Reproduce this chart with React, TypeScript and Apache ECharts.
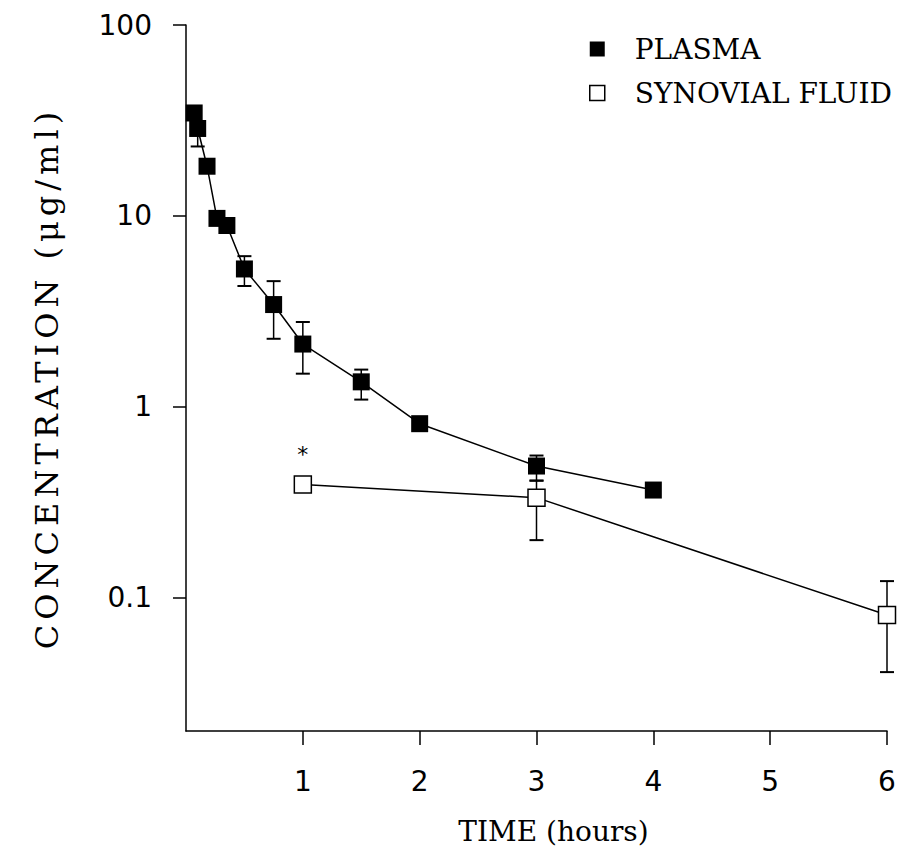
import React, { useEffect, useRef } from "react";
import * as echarts from "echarts";

// Plasma (filled squares)
const TIME_PLASMA = [0.07, 0.1, 0.18, 0.265, 0.35, 0.5, 0.75, 1, 1.5, 2, 3, 4];
const CONC_PLASMA = [34.6, 28.7, 18.2, 9.7, 8.9, 5.27, 3.43, 2.13, 1.35, 0.815, 0.489, 0.366];
const PLASMA_LOW: (number | null)[] = [null, 23.1, null, null, null, 4.29, 2.27, 1.49, 1.09, null, 0.41, null];
const PLASMA_HIGH: (number | null)[] = [null, null, null, null, null, 6.15, 4.55, 2.78, 1.565, null, 0.555, null];

// Synovial fluid (open squares)
const TIME_SYN = [1, 3, 6];
const CONC_SYN = [0.391, 0.334, 0.081];
const SYN_LOW: (number | null)[] = [null, 0.2, 0.0407];
const SYN_HIGH: (number | null)[] = [null, 0.41, 0.122];
const SYN_MARK = ["*", "", ""];

const X_TICKS = [1, 2, 3, 4, 5, 6];
const Y_TICKS = [0.1, 1, 10, 100];

const SERIES_NAMES = ["PLASMA", "SYNOVIAL FLUID"];
const Y_NAME = "CONCENTRATION (μg/ml)";
const X_NAME = "TIME (hours)";

const errData = (t: number[], v: number[], lo: (number | null)[], hi: (number | null)[]) =>
  t.map((x, i) => [x, lo[i] ?? v[i], hi[i] ?? v[i], lo[i] == null ? 0 : 1, hi[i] == null ? 0 : 1]);

const renderErr = (params: any, api: any) => {
  const x = api.value(0);
  const p1 = api.coord([x, api.value(1)]);
  const p2 = api.coord([x, api.value(2)]);
  const hasLo = api.value(3);
  const hasHi = api.value(4);
  const cw = 7;
  const style = { stroke: "#000", lineWidth: 1.5 };
  const children: any[] = [
    { type: "line", shape: { x1: p1[0], y1: p1[1], x2: p2[0], y2: p2[1] }, style },
  ];
  if (hasLo) children.push({ type: "line", shape: { x1: p1[0] - cw, y1: p1[1], x2: p1[0] + cw, y2: p1[1] }, style: { stroke: "#000", lineWidth: 2 } });
  if (hasHi) children.push({ type: "line", shape: { x1: p2[0] - cw, y1: p2[1], x2: p2[0] + cw, y2: p2[1] }, style: { stroke: "#000", lineWidth: 2 } });
  return { type: "group", children };
};

const fmtY = (v: number) => (v >= 1 ? String(Math.round(v)) : String(+v.toPrecision(1)));

export default function App() {
  const ref = useRef<HTMLDivElement>(null);
  useEffect(() => {
    if (!ref.current) return;
    const chart = echarts.init(ref.current, null, { renderer: "svg" });
    const serif = "DejaVu Serif";
    const sans = "DejaVu Sans";
    chart.setOption({
      animation: false,
      backgroundColor: "#fff",
      grid: { left: 186, right: 24, top: 25, bottom: 123, containLabel: false, outerBoundsMode: "none" },
      legend: {
        orient: "vertical",
        left: 589,
        top: 35,
        padding: 0,
        itemWidth: 15,
        itemHeight: 15,
        itemGap: 16,
        selectedMode: false,
        textStyle: { fontFamily: serif, fontSize: 28, color: "#000", padding: [0, 0, 0, 25] },
        data: [
          { name: SERIES_NAMES[0], icon: "rect", itemStyle: { color: "#000", borderWidth: 0 } },
          { name: SERIES_NAMES[1], icon: "rect", itemStyle: { color: "#fff", borderColor: "#000", borderWidth: 1.5 } },
        ],
      },
      xAxis: {
        type: "value",
        min: 0,
        max: 6,
        interval: 1,
        name: X_NAME,
        nameLocation: "middle",
        nameGap: 86,
        nameTextStyle: { fontFamily: serif, fontSize: 28, color: "#000", padding: [0, 0, 0, 34] },
        axisLine: { show: true, onZero: false, lineStyle: { color: "#000", width: 1.5 } },
        axisTick: { show: true, length: 14, customValues: X_TICKS, lineStyle: { color: "#000", width: 1.5 } },
        axisLabel: { customValues: X_TICKS, margin: 36, fontFamily: sans, fontSize: 28, color: "#000" },
        splitLine: { show: false },
      },
      yAxis: {
        type: "log",
        logBase: 10,
        min: 0.02,
        max: 100,
        name: Y_NAME,
        nameLocation: "middle",
        nameRotate: 90,
        nameGap: 123,
        nameTextStyle: { fontFamily: serif, fontSize: 32, color: "#000" },
        axisLine: { show: true, onZero: false, lineStyle: { color: "#000", width: 1.5 } },
        axisTick: { show: true, length: 13, customValues: Y_TICKS, lineStyle: { color: "#000", width: 1.5 } },
        axisLabel: { customValues: Y_TICKS, margin: 34, fontFamily: sans, fontSize: 28, color: "#000", formatter: fmtY },
        splitLine: { show: false },
        minorTick: { show: false },
      },
      series: [
        {
          type: "custom",
          name: "plasma-err",
          z: 1,
          renderItem: renderErr,
          data: errData(TIME_PLASMA, CONC_PLASMA, PLASMA_LOW, PLASMA_HIGH),
          silent: true,
        },
        {
          type: "custom",
          name: "syn-err",
          z: 1,
          renderItem: renderErr,
          data: errData(TIME_SYN, CONC_SYN, SYN_LOW, SYN_HIGH),
          silent: true,
        },
        {
          type: "line",
          name: SERIES_NAMES[0],
          z: 3,
          symbol: "rect",
          symbolSize: 17,
          lineStyle: { color: "#000", width: 1.5 },
          itemStyle: { color: "#000", borderWidth: 0 },
          data: TIME_PLASMA.map((t, i) => [t, CONC_PLASMA[i]]),
        },
        {
          type: "line",
          name: SERIES_NAMES[1],
          z: 3,
          symbol: "rect",
          symbolSize: 17,
          lineStyle: { color: "#000", width: 1.5 },
          itemStyle: { color: "#fff", borderColor: "#000", borderWidth: 1.5 },
          label: {
            show: true,
            position: "top",
            distance: 10,
            fontFamily: sans,
            fontSize: 22,
            color: "#000",
            formatter: (p: any) => SYN_MARK[p.dataIndex],
          },
          data: TIME_SYN.map((t, i) => [t, CONC_SYN[i]]),
        },
      ],
    });
    // widen the letter spacing of the vertical axis title, as in the reference
    ref.current.querySelectorAll("text").forEach((t) => {
      if (t.textContent === Y_NAME) t.setAttribute("letter-spacing", "5");
    });
    return () => chart.dispose();
  }, []);
  return (
    <div
      ref={ref}
      style={{ position: "fixed", left: 0, top: 0, width: 911, height: 854, background: "#fff" }}
    />
  );
}
